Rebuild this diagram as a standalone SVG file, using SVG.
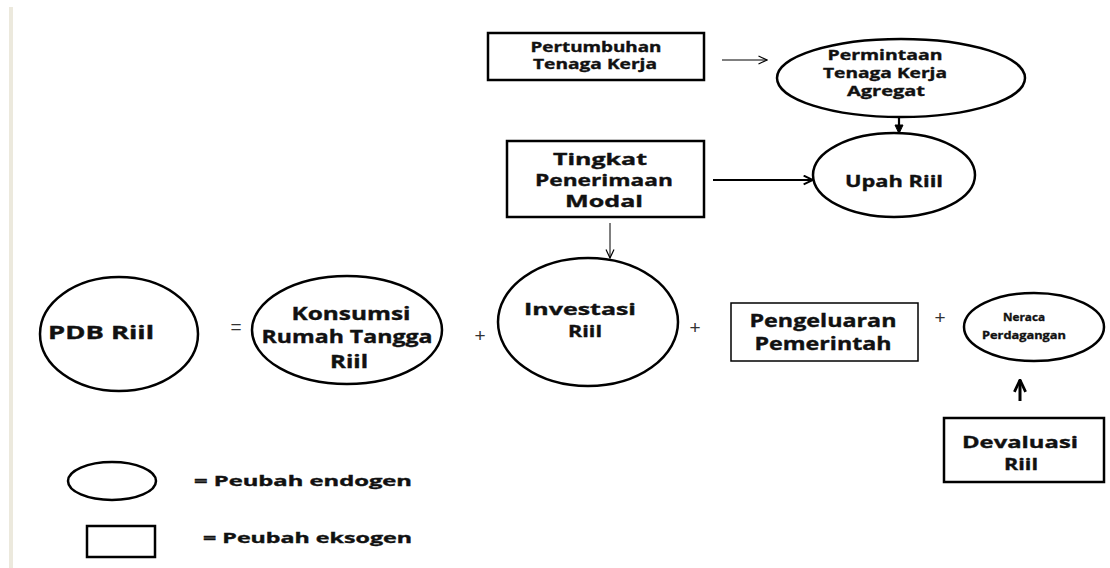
<svg xmlns="http://www.w3.org/2000/svg" width="1110" height="568" viewBox="0 0 1110 568">
<defs>
<style>
.t{font-family:"Open Sans","Liberation Sans",sans-serif;font-weight:bold;fill:#111;stroke:#111;stroke-width:0.35;text-anchor:middle}
.op{font-family:"Liberation Sans",sans-serif;font-size:19px;fill:#333;text-anchor:middle}
.nd{fill:#fff;stroke:#000;stroke-width:2.5}
.bx{fill:#fff;stroke:#000;stroke-width:2.5}
.ln{fill:none;stroke:#000}
</style>
<marker id="a1" viewBox="0 0 10 10" refX="9.5" refY="5" markerWidth="10" markerHeight="10" markerUnits="userSpaceOnUse" orient="auto">
<path d="M1,1 L9.5,5 L1,9" fill="none" stroke="#000" stroke-width="1.2"/>
</marker>
<marker id="a2" viewBox="0 0 10 10" refX="9.5" refY="5" markerWidth="11" markerHeight="11" markerUnits="userSpaceOnUse" orient="auto">
<path d="M1,1 L9.5,5 L1,9" fill="none" stroke="#000" stroke-width="1.8"/>
</marker>
<marker id="a3" viewBox="0 0 10 10" refX="9" refY="5" markerWidth="10" markerHeight="10" markerUnits="userSpaceOnUse" orient="auto">
<path d="M1,1 L9.5,5 L1,9 Z" fill="#000" stroke="#000" stroke-width="1"/>
</marker>
<marker id="a4" viewBox="0 0 10 10" refX="9.5" refY="5" markerWidth="14" markerHeight="14" markerUnits="userSpaceOnUse" orient="auto">
<path d="M1,1 L9.5,5 L1,9" fill="none" stroke="#000" stroke-width="2"/>
</marker>
</defs>
<rect x="0" y="0" width="1110" height="568" fill="#fff"/>
<rect x="9" y="7" width="4" height="561" fill="#ECE9DD"/>

<g id="connectors">
<line class="ln" x1="722" y1="60" x2="767" y2="60" stroke-width="1" marker-end="url(#a1)"/>
<line class="ln" x1="899" y1="117" x2="899" y2="133" stroke-width="2.2" marker-end="url(#a3)"/>
<line class="ln" x1="713" y1="180" x2="813" y2="180" stroke-width="2" marker-end="url(#a2)"/>
<line class="ln" x1="610" y1="223" x2="610" y2="258" stroke-width="1" marker-end="url(#a1)"/>
<line class="ln" x1="1020" y1="401" x2="1020" y2="380" stroke-width="3" marker-end="url(#a4)"/>
</g>

<g id="n-pertumbuhan">
<rect class="bx" x="488" y="33" width="216" height="47"/>
<text class="t" font-size="14" x="596" y="52" textLength="131" lengthAdjust="spacingAndGlyphs">Pertumbuhan</text>
<text class="t" font-size="14" x="595" y="69" textLength="124" lengthAdjust="spacingAndGlyphs">Tenaga Kerja</text>
</g>

<g id="n-permintaan">
<ellipse class="nd" cx="901" cy="78" rx="124" ry="39"/>
<text class="t" font-size="14" x="885" y="60" textLength="115" lengthAdjust="spacingAndGlyphs">Permintaan</text>
<text class="t" font-size="14" x="885" y="78" textLength="124" lengthAdjust="spacingAndGlyphs">Tenaga Kerja</text>
<text class="t" font-size="14" x="886" y="96" textLength="78" lengthAdjust="spacingAndGlyphs">Agregat</text>
</g>

<g id="n-tingkat">
<rect class="bx" x="507" y="141" width="197" height="76"/>
<text class="t" font-size="16.5" x="600" y="165" textLength="94" lengthAdjust="spacingAndGlyphs">Tingkat</text>
<text class="t" font-size="16.5" x="604" y="186" textLength="138" lengthAdjust="spacingAndGlyphs">Penerimaan</text>
<text class="t" font-size="16.5" x="604" y="207" textLength="78" lengthAdjust="spacingAndGlyphs">Modal</text>
</g>

<g id="n-upah">
<ellipse class="nd" cx="894" cy="175" rx="81" ry="42"/>
<text class="t" font-size="16.5" x="894" y="187" textLength="98" lengthAdjust="spacingAndGlyphs">Upah Riil</text>
</g>

<g id="n-pdb">
<ellipse class="nd" cx="119" cy="334" rx="79" ry="57"/>
<text class="t" font-size="17" x="101" y="339" textLength="106" lengthAdjust="spacingAndGlyphs">PDB Riil</text>
</g>

<text class="op" x="236" y="333">=</text>

<g id="n-konsumsi">
<ellipse class="nd" cx="347" cy="330" rx="95" ry="54"/>
<text class="t" font-size="17" x="351" y="320" textLength="119" lengthAdjust="spacingAndGlyphs">Konsumsi</text>
<text class="t" font-size="17" x="347" y="343" textLength="171" lengthAdjust="spacingAndGlyphs">Rumah Tangga</text>
<text class="t" font-size="17" x="349" y="368" textLength="38" lengthAdjust="spacingAndGlyphs">Riil</text>
</g>

<text class="op" x="480" y="342">+</text>

<g id="n-investasi">
<ellipse class="nd" cx="588" cy="322" rx="90" ry="64"/>
<text class="t" font-size="16.5" x="580" y="315" textLength="112" lengthAdjust="spacingAndGlyphs">Investasi</text>
<text class="t" font-size="16.5" x="585" y="337" textLength="34" lengthAdjust="spacingAndGlyphs">Riil</text>
</g>

<text class="op" x="695" y="334">+</text>

<g id="n-pengeluaran">
<rect x="731" y="303" width="187" height="58" fill="#fff" stroke="#000" stroke-width="1.5"/>
<text class="t" font-size="17" x="823" y="327" textLength="147" lengthAdjust="spacingAndGlyphs">Pengeluaran</text>
<text class="t" font-size="17" x="823" y="350" textLength="137" lengthAdjust="spacingAndGlyphs">Pemerintah</text>
</g>

<text class="op" x="940" y="324">+</text>

<g id="n-neraca">
<ellipse class="nd" cx="1034" cy="327" rx="70" ry="34"/>
<text class="t" font-size="11" x="1024" y="321" textLength="42" lengthAdjust="spacingAndGlyphs">Neraca</text>
<text class="t" font-size="11" x="1024" y="339" textLength="84" lengthAdjust="spacingAndGlyphs">Perdagangan</text>
</g>

<g id="n-devaluasi">
<rect class="bx" x="944" y="418" width="160" height="64"/>
<text class="t" font-size="16.5" x="1020" y="448" textLength="116" lengthAdjust="spacingAndGlyphs">Devaluasi</text>
<text class="t" font-size="16.5" x="1021" y="470" textLength="34" lengthAdjust="spacingAndGlyphs">Riil</text>
</g>

<g id="legend">
<ellipse class="nd" cx="112" cy="481" rx="44" ry="19"/>
<text class="t" font-size="14" x="303" y="486" textLength="218" lengthAdjust="spacingAndGlyphs">= Peubah endogen</text>
<rect class="bx" x="87" y="526" width="68" height="31"/>
<text class="t" font-size="14" x="307.5" y="543" textLength="209" lengthAdjust="spacingAndGlyphs">= Peubah eksogen</text>
</g>
</svg>
